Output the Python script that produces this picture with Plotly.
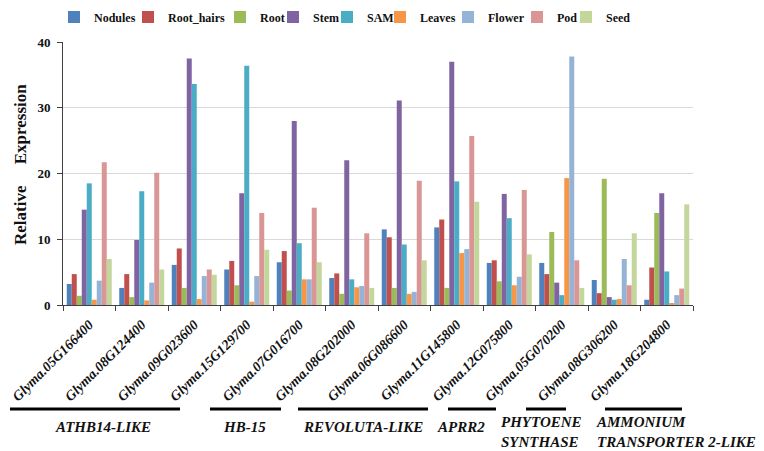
import plotly.graph_objects as go

genes = ["Glyma.05G166400", "Glyma.08G124400", "Glyma.09G023600", "Glyma.15G129700",
         "Glyma.07G016700", "Glyma.08G202000", "Glyma.06G086600", "Glyma.11G145800",
         "Glyma.12G075800", "Glyma.05G070200", "Glyma.08G306200", "Glyma.18G204800"]

nodules    = [3.2, 2.6, 6.1, 5.4, 6.5, 4.1, 11.5, 11.8, 6.4, 6.4, 3.8, 0.8]
root_hairs = [4.7, 4.7, 8.6, 6.7, 8.2, 4.8, 10.3, 13.0, 6.8, 4.7, 1.8, 5.7]
root       = [1.4, 1.2, 2.6, 3.0, 2.2, 1.7, 2.6, 2.6, 3.6, 11.1, 19.2, 14.0]
stem       = [14.5, 9.9, 37.5, 17.0, 28.0, 22.0, 31.1, 37.0, 16.9, 3.4, 1.2, 17.0]
sam        = [18.5, 17.3, 33.6, 36.4, 9.4, 3.9, 9.2, 18.8, 13.2, 1.5, 0.8, 5.1]
leaves     = [0.8, 0.7, 0.9, 0.5, 3.9, 2.7, 1.7, 7.9, 3.0, 19.3, 0.9, 0.25]
flower     = [3.7, 3.4, 4.4, 4.4, 3.9, 2.9, 2.0, 8.5, 4.3, 37.8, 7.0, 1.5]
pod        = [21.7, 20.1, 5.4, 14.0, 14.8, 10.9, 18.9, 25.7, 17.5, 6.8, 3.0, 2.5]
seed       = [7.0, 5.4, 4.6, 8.4, 6.5, 2.6, 6.8, 15.7, 7.7, 2.6, 10.9, 15.3]

tissues = ["Nodules", "Root_hairs", "Root", "Stem", "SAM", "Leaves", "Flower", "Pod", "Seed"]
series = [nodules, root_hairs, root, stem, sam, leaves, flower, pod, seed]
colors = ["#4F81BD", "#C0504D", "#9BBB59", "#8064A2", "#4BACC6",
          "#F79646", "#95B3D7", "#D99694", "#C3D69B"]

y_ticks = [0, 10, 20, 30, 40]

# gene-family group labels (decoration)
group_labels = ["ATHB14-LIKE", "HB-15", "REVOLUTA-LIKE", "APRR2",
                "PHYTOENE<br>SYNTHASE", "AMMONIUM<br>TRANSPORTER 2-LIKE"]

W, H = 764, 451
L, R, T, B = 63, 71, 42, 146
PW, PH = W - L - R, H - T - B

def px(x):
    return (x - L) / PW

def py(y):
    return (H - B - y) / PH

serif = "Liberation Serif, Times New Roman, serif"

# legend text start positions (pixels)
legend_text_px = [91, 165, 257, 310, 364, 417, 485, 554, 603]

fig = go.Figure()
layout_legends = {}
for i, (name, vals, c) in enumerate(zip(tissues, series, colors)):
    lname = "legend" if i == 0 else f"legend{i + 1}"
    fig.add_trace(go.Bar(x=genes, y=vals, name=name, legend=lname,
                         marker=dict(color=c, line=dict(width=0))))
    layout_legends[lname] = dict(
        orientation="h", x=px(legend_text_px[i] - 37), y=py(17),
        xanchor="left", yanchor="middle", bgcolor="rgba(0,0,0,0)",
        font=dict(size=12, family=serif, weight="bold", color="#111"),
        itemwidth=30,
    )

fig.update_layout(
    width=W, height=H,
    margin=dict(l=L, r=R, t=T, b=B, pad=0, autoexpand=False),
    paper_bgcolor="white", plot_bgcolor="white",
    barmode="group", bargap=0.143, bargroupgap=0,
    font=dict(family=serif, color="#111111"),
    showlegend=True,
    **layout_legends,
)
fig.update_xaxes(
    type="category", showline=True, linecolor="#404040", linewidth=1,
    ticks="outside", tickson="boundaries", ticklen=5, tickcolor="#404040",
    tickangle=-45, tickfont=dict(size=14, family=serif, weight="bold", style="italic", color="#111"),
    ticklabelstandoff=5, showgrid=False,
)
fig.update_yaxes(
    range=[0, 40], tickvals=y_ticks, showline=True, linecolor="#404040", linewidth=1,
    ticks="outside", ticklen=5, tickcolor="#404040",
    tickfont=dict(size=13, family=serif, weight="bold", color="#111"),
    ticklabelstandoff=4,
    showgrid=True, gridcolor="#D9D9D9", gridwidth=1, zeroline=False,
)

# y-axis title
fig.add_annotation(text="Relative" + "\u00a0" * 5 + "Expression", xref="paper", yref="paper",
                   x=px(20), y=py(165), xanchor="center", yanchor="middle",
                   textangle=-90, showarrow=False,
                   font=dict(size=17, family=serif, weight="bold", color="#111"))

# group lines and labels
lines_px = [(10, 180), (210, 281), (298, 428), (448, 496), (526, 566), (605, 682)]
label_px = [(103, 427, "center"), (245, 427, "center"), (363, 427, "center"),
            (461, 427, "center"), (541, 432, "center"), (594, 432, "left")]
for (x0, x1) in lines_px:
    fig.add_shape(type="line", xref="paper", yref="paper", x0=px(x0), x1=px(x1),
                  y0=py(409), y1=py(409), line=dict(color="black", width=3))
for name, (lx, ly, al) in zip(group_labels, label_px):
    fig.add_annotation(text=name, xref="paper", yref="paper", x=px(lx), y=py(ly),
                       xanchor=al, yanchor="middle", align="left", showarrow=False,
                       font=dict(size=15, family=serif, weight="bold", style="italic", color="#111"))

fig.write_html("out.html", config={"displayModeBar": False},
               post_script="document.body.style.margin='0';document.body.style.overflow='hidden';")
